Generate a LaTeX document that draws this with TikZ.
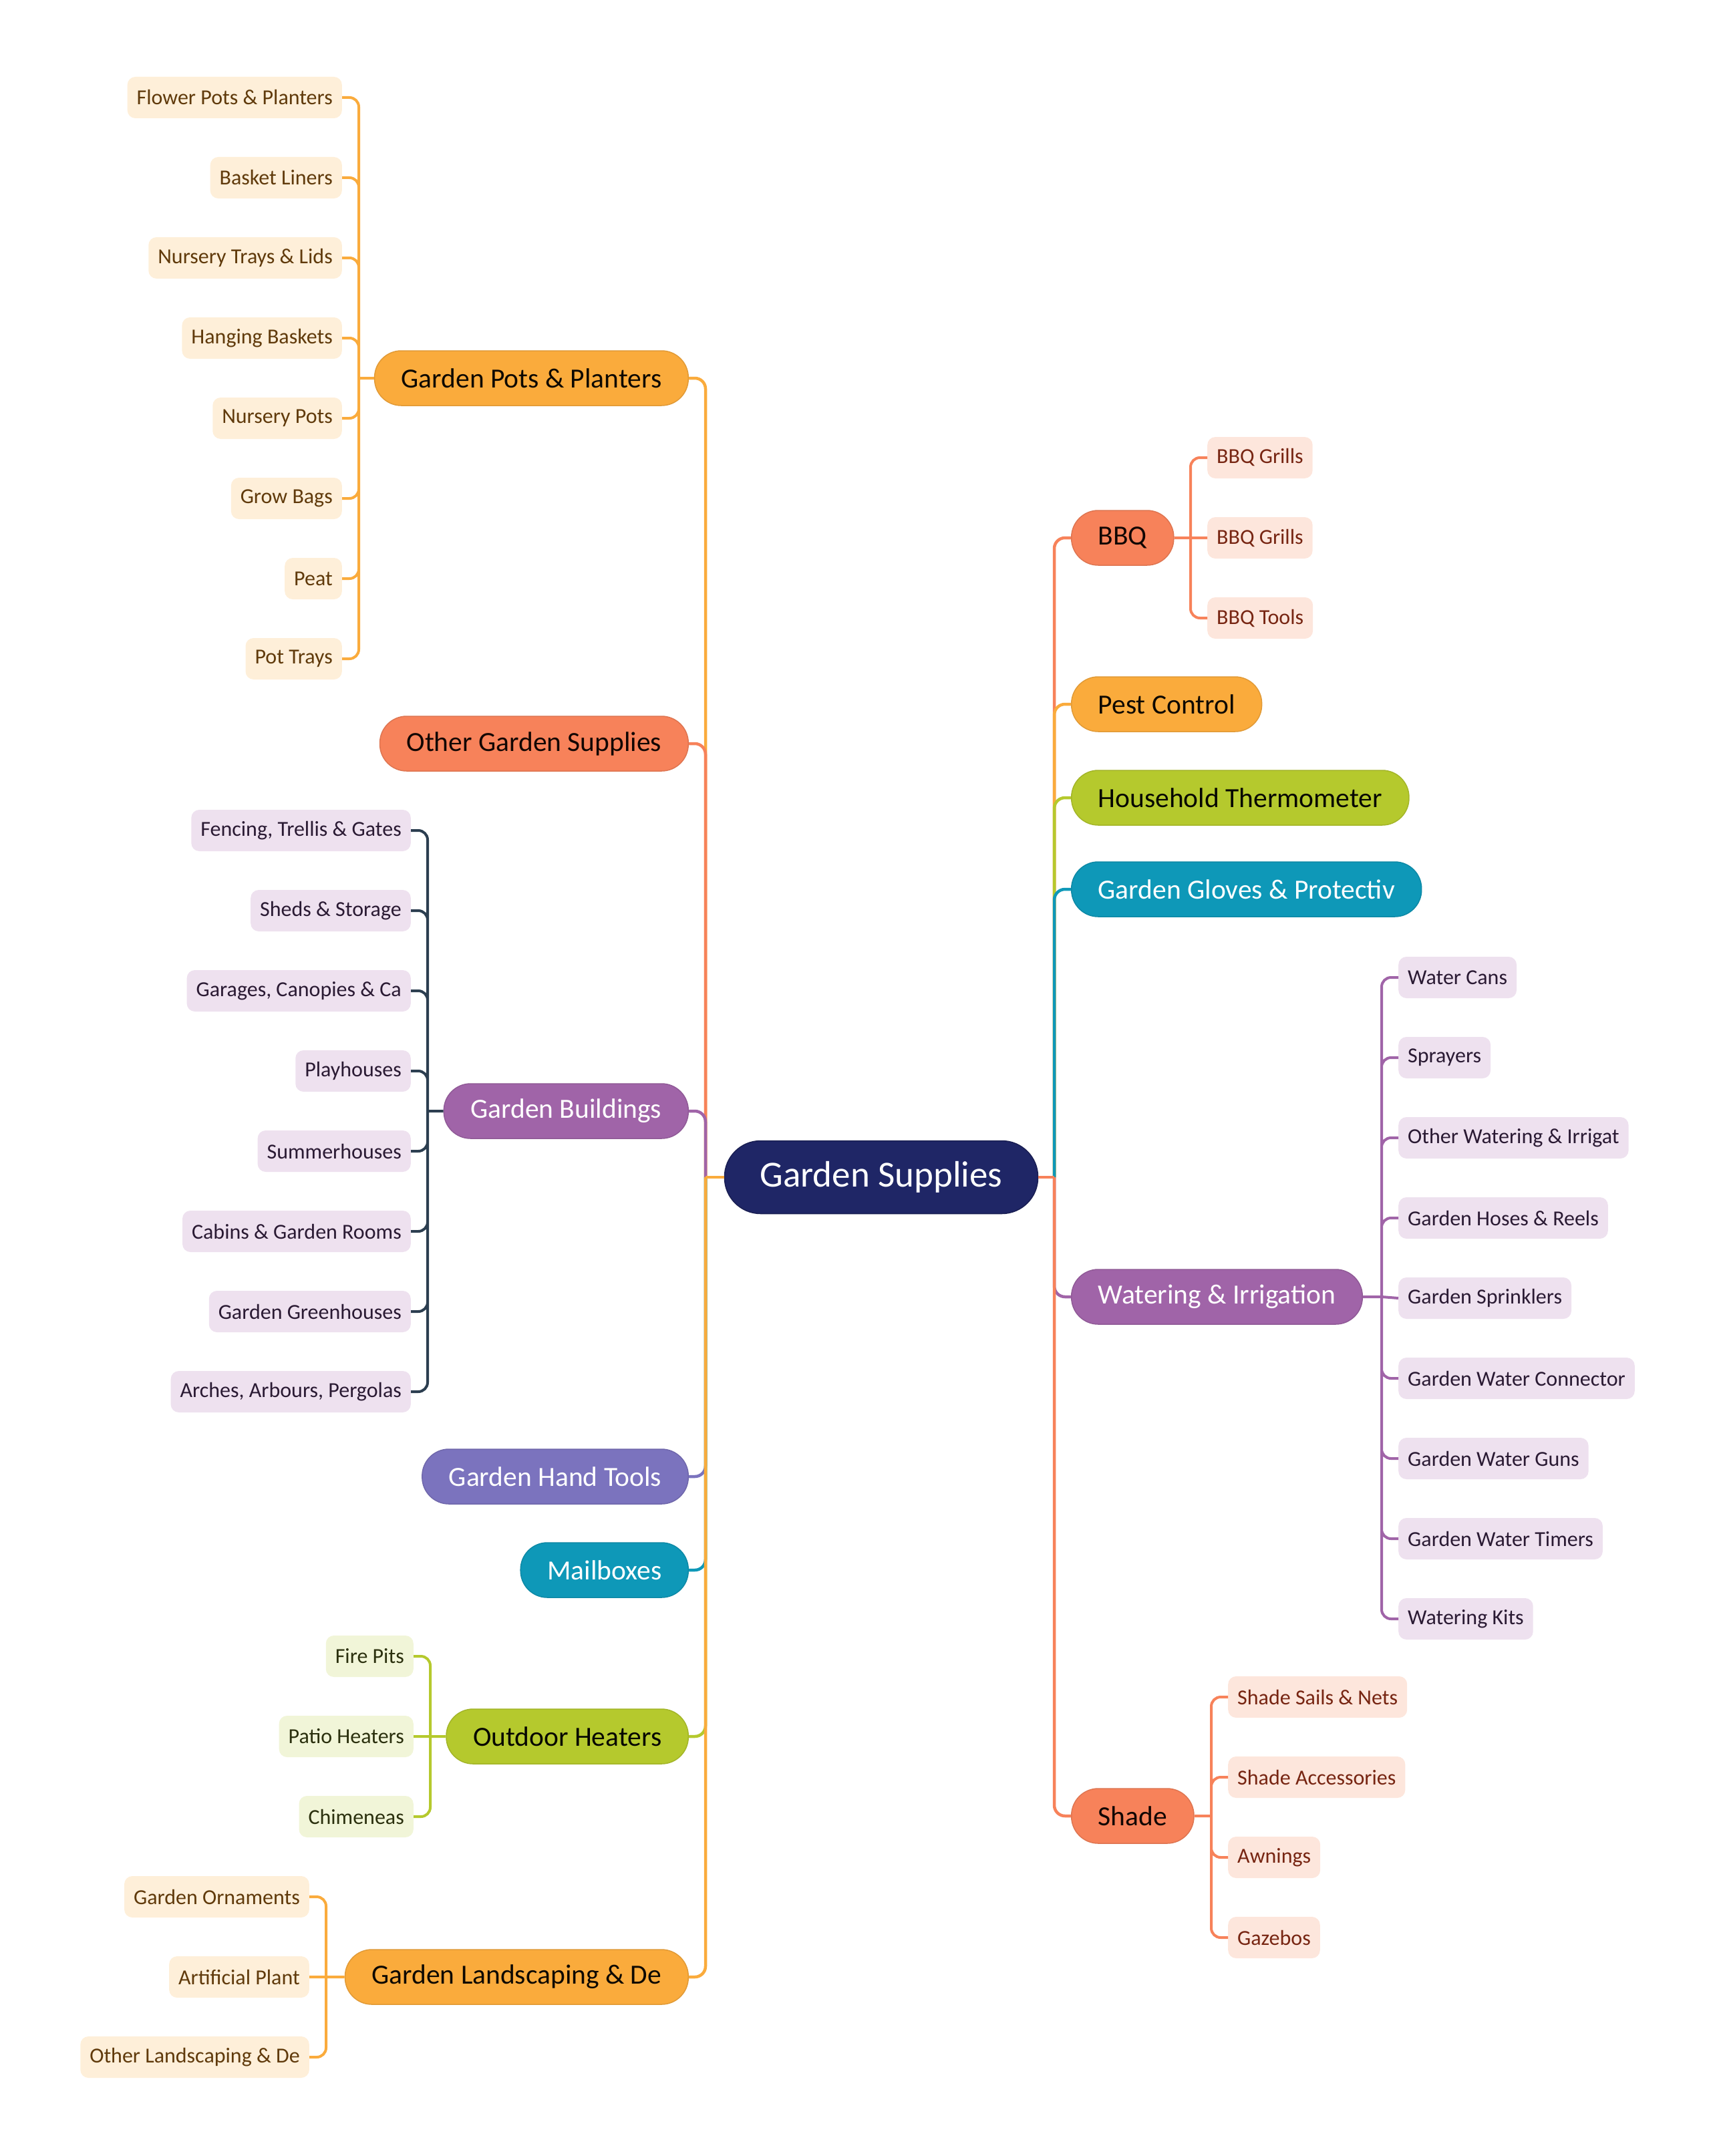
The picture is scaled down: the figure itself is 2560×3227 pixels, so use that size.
\documentclass[tikz,border=0pt]{standalone}
\usepackage{fontspec}
\setmainfont{Carlito}
\usepackage{xcolor}
\definecolor{rootblue}{HTML}{1F2666}
\definecolor{potorange}{HTML}{FAAB3C}
\definecolor{potpale}{HTML}{FEEFD9}
\definecolor{potink}{HTML}{603A0B}
\definecolor{bbqcoral}{HTML}{F7825A}
\definecolor{bbqpale}{HTML}{FDE6DC}
\definecolor{bbqink}{HTML}{772512}
\definecolor{shedpurple}{HTML}{A064A8}
\definecolor{shedpale}{HTML}{EEE1EF}
\definecolor{shedink}{HTML}{2A1A33}
\definecolor{shedline}{HTML}{2C3E50}
\definecolor{toolblue}{HTML}{7B73BE}
\definecolor{mailteal}{HTML}{0E98B8}
\definecolor{heatlime}{HTML}{B5C92D}
\definecolor{heatpale}{HTML}{F1F5D8}
\definecolor{heatink}{HTML}{2B300E}

\begin{document}
\begin{tikzpicture}[x=1pt, y=-1pt,
      root/.style = {shape=rectangle, rounded corners=54pt, minimum height=109pt,
        inner xsep=53pt, fill=rootblue, draw=rootblue!80!black, line width=1.5pt,
        text=white, font=\fontsize{55}{63}\selectfont},
      topic/.style = {shape=rectangle, rounded corners=40pt, minimum height=82pt,
        inner xsep=40pt, line width=1.5pt, font=\fontsize{41.5}{49}\selectfont},
      leaf/.style = {shape=rectangle, rounded corners=12pt, minimum height=62pt,
        inner xsep=14pt, font=\fontsize{32}{38}\selectfont},
      pottopic/.style = {topic, fill=potorange, draw=potorange!90!black, text=black!85!potink},
      bbqtopic/.style = {topic, fill=bbqcoral, draw=bbqcoral!90!black, text=black!85!bbqink},
      shedtopic/.style = {topic, fill=shedpurple, draw=shedpurple!90!black, text=white},
      tooltopic/.style = {topic, fill=toolblue, draw=toolblue!90!black, text=white},
      mailtopic/.style = {topic, fill=mailteal, draw=mailteal!90!black, text=white},
      heattopic/.style = {topic, fill=heatlime, draw=heatlime!90!black, text=black!85!heatink},
      potleaf/.style = {leaf, fill=potpale, text=potink},
      bbqleaf/.style = {leaf, fill=bbqpale, text=bbqink},
      shedleaf/.style = {leaf, fill=shedpale, text=shedink},
      heatleaf/.style = {leaf, fill=heatpale, text=heatink},
      branch/.style = {line width=4.5pt, rounded corners=16pt},
      twig/.style = {line width=4pt, rounded corners=14pt}]
  \useasboundingbox (0,0) rectangle (2560,3227);

  \node[root] (gs) at (1319,1762) {Garden Supplies};
  \coordinate (lt) at (1056,1762);
  \coordinate (rt) at (1578,1762);

  \node[pottopic, anchor=east] (pots) at (1031,566) {Garden Pots \& Planters};
  \node[bbqtopic, anchor=east] (other) at (1031,1113) {Other Garden Supplies};
  \node[shedtopic, anchor=east] (build) at (1031,1663) {Garden Buildings};
  \node[tooltopic, anchor=east] (hand) at (1031,2210) {Garden Hand Tools};
  \node[mailtopic, anchor=east] (mail) at (1031,2350) {Mailboxes};
  \node[heattopic, anchor=east] (heat) at (1031,2599) {Outdoor Heaters};
  \node[pottopic, anchor=east] (land) at (1031,2959) {Garden Landscaping \& De};

  \node[bbqtopic, anchor=west] (bbq) at (1603,805) {BBQ};
  \node[pottopic, anchor=west] (pest) at (1603,1054) {Pest Control};
  \node[heattopic, anchor=west] (thermo) at (1603,1194) {Household Thermometer};
  \node[mailtopic, anchor=west] (gloves) at (1603,1331) {Garden Gloves \& Protectiv};
  \node[shedtopic, anchor=west] (water) at (1603,1941) {Watering \& Irrigation};
  \node[bbqtopic, anchor=west] (shade) at (1603,2718) {Shade};

  \node[potleaf, anchor=east] (pots1) at (512,146) {Flower Pots \& Planters};
  \node[potleaf, anchor=east] (pots2) at (512,266) {Basket Liners};
  \node[potleaf, anchor=east] (pots3) at (512,386) {Nursery Trays \& Lids};
  \node[potleaf, anchor=east] (pots4) at (512,506) {Hanging Baskets};
  \node[potleaf, anchor=east] (pots5) at (512,626) {Nursery Pots};
  \node[potleaf, anchor=east] (pots6) at (512,746) {Grow Bags};
  \node[potleaf, anchor=east] (pots7) at (512,866) {Peat};
  \node[potleaf, anchor=east] (pots8) at (512,986) {Pot Trays};
  \coordinate (potsj) at (537,566);

  \node[shedleaf, anchor=east] (build1) at (615,1243) {Fencing, Trellis \& Gates};
  \node[shedleaf, anchor=east] (build2) at (615,1363) {Sheds \& Storage};
  \node[shedleaf, anchor=east] (build3) at (615,1483) {Garages, Canopies \& Ca};
  \node[shedleaf, anchor=east] (build4) at (615,1603) {Playhouses};
  \node[shedleaf, anchor=east] (build5) at (615,1723) {Summerhouses};
  \node[shedleaf, anchor=east] (build6) at (615,1843) {Cabins \& Garden Rooms};
  \node[shedleaf, anchor=east] (build7) at (615,1963) {Garden Greenhouses};
  \node[shedleaf, anchor=east] (build8) at (615,2083) {Arches, Arbours, Pergolas};
  \coordinate (buildj) at (640,1663);

  \node[heatleaf, anchor=east] (heat1) at (619,2479) {Fire Pits};
  \node[heatleaf, anchor=east] (heat2) at (619,2599) {Patio Heaters};
  \node[heatleaf, anchor=east] (heat3) at (619,2719) {Chimeneas};
  \coordinate (heatj) at (644,2599);

  \node[potleaf, anchor=east] (land1) at (463,2839) {Garden Ornaments};
  \node[potleaf, anchor=east] (land2) at (463,2959) {Artificial Plant};
  \node[potleaf, anchor=east] (land3) at (463,3079) {Other Landscaping \& De};
  \coordinate (landj) at (488,2959);

  \node[bbqleaf, anchor=west] (bbq1) at (1807,685) {BBQ Grills};
  \node[bbqleaf, anchor=west] (bbq2) at (1807,805) {BBQ Grills};
  \node[bbqleaf, anchor=west] (bbq3) at (1807,925) {BBQ Tools};
  \coordinate (bbqj) at (1782,805);

  \node[shedleaf, anchor=west] (water1) at (2093,1463) {Water Cans};
  \node[shedleaf, anchor=west] (water2) at (2093,1583) {Sprayers};
  \node[shedleaf, anchor=west] (water3) at (2093,1703) {Other Watering \& Irrigat};
  \node[shedleaf, anchor=west] (water4) at (2093,1823) {Garden Hoses \& Reels};
  \node[shedleaf, anchor=west] (water5) at (2093,1943) {Garden Sprinklers};
  \node[shedleaf, anchor=west] (water6) at (2093,2063) {Garden Water Connector};
  \node[shedleaf, anchor=west] (water7) at (2093,2183) {Garden Water Guns};
  \node[shedleaf, anchor=west] (water8) at (2093,2303) {Garden Water Timers};
  \node[shedleaf, anchor=west] (water9) at (2093,2423) {Watering Kits};
  \coordinate (waterj) at (2068,1941);

  \node[bbqleaf, anchor=west] (shade1) at (1838,2540) {Shade Sails \& Nets};
  \node[bbqleaf, anchor=west] (shade2) at (1838,2660) {Shade Accessories};
  \node[bbqleaf, anchor=west] (shade3) at (1838,2780) {Awnings};
  \node[bbqleaf, anchor=west] (shade4) at (1838,2900) {Gazebos};
  \coordinate (shadej) at (1813,2718);

  \draw[branch, potorange] (lt) |- (pots.east);
  \draw[branch, bbqcoral] (lt) |- (other.east);
  \draw[branch, shedpurple] (lt) |- (build.east);
  \draw[branch, toolblue] (lt) |- (hand.east);
  \draw[branch, mailteal] (lt) |- (mail.east);
  \draw[branch, heatlime] (lt) |- (heat.east);
  \draw[branch, potorange] (lt) |- (land.east);
  \draw[branch, potorange] (gs.west) -- (lt);

  \draw[branch, bbqcoral] (rt) |- (bbq.west);
  \draw[branch, potorange] (rt) |- (pest.west);
  \draw[branch, heatlime] (rt) |- (thermo.west);
  \draw[branch, mailteal] (rt) |- (gloves.west);
  \draw[branch, shedpurple] (rt) |- (water.west);
  \draw[branch, bbqcoral] (rt) |- (shade.west);
  \draw[branch, bbqcoral] (gs.east) -- (rt);

  \draw[twig, potorange] (pots.west) -- (potsj) (potsj) |- (pots1.east)
    (potsj) |- (pots2.east) (potsj) |- (pots3.east) (potsj) |- (pots4.east)
    (potsj) |- (pots5.east) (potsj) |- (pots6.east) (potsj) |- (pots7.east)
    (potsj) |- (pots8.east);
  \draw[twig, shedline] (build.west) -- (buildj) (buildj) |- (build1.east)
    (buildj) |- (build2.east) (buildj) |- (build3.east) (buildj) |- (build4.east)
    (buildj) |- (build5.east) (buildj) |- (build6.east) (buildj) |- (build7.east)
    (buildj) |- (build8.east);
  \draw[twig, heatlime] (heat.west) -- (heatj) (heatj) |- (heat1.east)
    (heatj) -- (heat2.east) (heatj) |- (heat3.east);
  \draw[twig, potorange] (land.west) -- (landj) (landj) |- (land1.east)
    (landj) -- (land2.east) (landj) |- (land3.east);
  \draw[twig, bbqcoral] (bbq.east) -- (bbqj) (bbqj) |- (bbq1.west)
    (bbqj) -- (bbq2.west) (bbqj) |- (bbq3.west);
  \draw[twig, shedpurple] (water.east) -- (waterj) (waterj) |- (water1.west)
    (waterj) |- (water2.west) (waterj) |- (water3.west) (waterj) |- (water4.west)
    (waterj) -- (water5.west) (waterj) |- (water6.west) (waterj) |- (water7.west)
    (waterj) |- (water8.west) (waterj) |- (water9.west);
  \draw[twig, bbqcoral] (shade.east) -- (shadej) (shadej) |- (shade1.west)
    (shadej) |- (shade2.west) (shadej) |- (shade3.west) (shadej) |- (shade4.west);
\end{tikzpicture}
\end{document}
